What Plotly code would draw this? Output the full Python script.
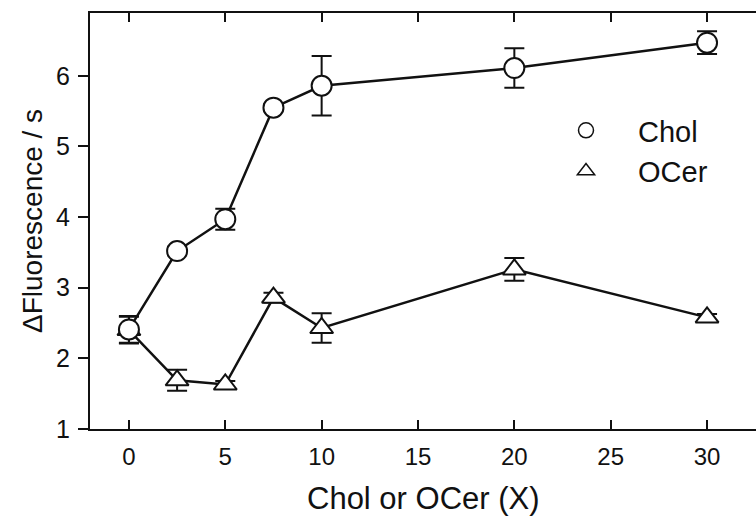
import plotly.graph_objects as go

x_vals = [0, 2.5, 5, 7.5, 10, 20, 30]
chol_y = [2.41, 3.52, 3.97, 5.55, 5.86, 6.11, 6.47]
chol_err = [0.19, 0.06, 0.15, 0.05, 0.42, 0.28, 0.16]
ocer_y = [2.40, 1.69, 1.63, 2.86, 2.43, 3.26, 2.58]
ocer_err = [0.19, 0.15, 0.05, 0.07, 0.21, 0.16, 0.05]
x_ticks = [0, 5, 10, 15, 20, 25, 30]
y_ticks = [1, 2, 3, 4, 5, 6]
series_names = ["Chol", "OCer"]

FONT = "Liberation Sans, Arial, sans-serif"
INK = "#111111"

fig = go.Figure()

fig.add_trace(go.Scatter(
    x=x_vals, y=ocer_y, mode="lines+markers", showlegend=False,
    line=dict(color=INK, width=2.5),
    marker=dict(symbol="triangle-up", size=20, color="white", line=dict(color=INK, width=2)),
    error_y=dict(type="data", array=ocer_err, visible=True, color=INK, thickness=2, width=10),
))
fig.add_trace(go.Scatter(
    x=x_vals, y=chol_y, mode="lines+markers", showlegend=False,
    line=dict(color=INK, width=2.5),
    marker=dict(symbol="circle", size=20, color="white", line=dict(color=INK, width=2)),
    error_y=dict(type="data", array=chol_err, visible=True, color=INK, thickness=2, width=10),
))
# legend-only entries (marker only)
fig.add_trace(go.Scatter(
    x=[None], y=[None], mode="markers", name=series_names[0],
    marker=dict(symbol="circle", size=15, color="white", line=dict(color=INK, width=1.5)),
))
fig.add_trace(go.Scatter(
    x=[None], y=[None], mode="markers", name=series_names[1],
    marker=dict(symbol="triangle-up", size=15, color="white", line=dict(color=INK, width=1.5)),
))

fig.update_layout(
    width=756, height=526,
    margin=dict(l=90, r=0, t=13, b=97),
    paper_bgcolor="white", plot_bgcolor="white",
    font=dict(family=FONT, color=INK),
    showlegend=True,
    legend=dict(
        x=(534 - 90) / 666, y=1 - (105 - 13) / 416, xanchor="left", yanchor="top",
        xref="paper", yref="paper",
        font=dict(size=29, family=FONT, color=INK),
        bgcolor="rgba(0,0,0,0)", itemwidth=94, tracegroupgap=0,
    ),
    xaxis=dict(
        range=[-2.02, 32.54], tickvals=x_ticks, ticks="inside", ticklen=9,
        tickwidth=1.5, tickcolor=INK, showline=True, linecolor=INK, linewidth=2,
        mirror="ticks", showgrid=False, zeroline=False,
        tickfont=dict(size=24, family=FONT, color=INK), ticklabelstandoff=5,
    ),
    yaxis=dict(
        range=[1, 6.89], tickvals=y_ticks, ticks="outside", ticklen=10,
        tickwidth=1.5, tickcolor=INK, showline=True, linecolor=INK, linewidth=2,
        mirror=False, showgrid=False, zeroline=False,
        tickfont=dict(size=25, family=FONT, color=INK), ticklabelstandoff=3,
    ),
    annotations=[
        dict(text="Chol or OCer (X)", x=0.5, y=0, xref="paper", yref="paper",
             xanchor="center", yanchor="middle", yshift=-69, showarrow=False,
             font=dict(size=31, family=FONT, color=INK)),
        dict(text="\u0394Fluorescence / s", x=0, y=0.5, xref="paper", yref="paper",
             xanchor="center", yanchor="middle", xshift=-58, textangle=-90,
             showarrow=False, font=dict(size=28, family=FONT, color=INK)),
    ],
)

fig.write_html("out.html")
